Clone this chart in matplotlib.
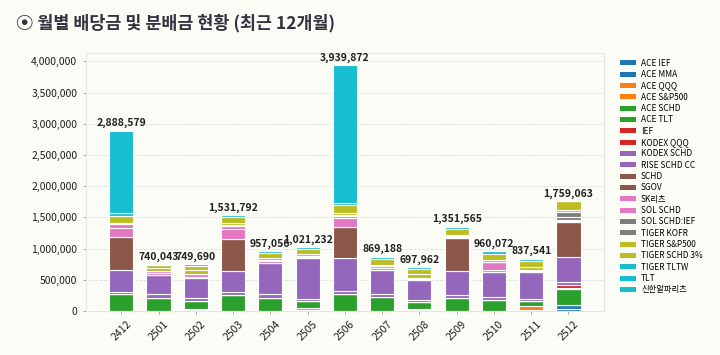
import numpy as np
import matplotlib
matplotlib.use('Agg')
import matplotlib.pyplot as plt
from matplotlib.ticker import FuncFormatter

plt.rcParams['font.family'] = ['Noto Sans CJK KR', 'DejaVu Sans']

# months (YYMM)
months = ['2412', '2501', '2502', '2503', '2504', '2505', '2506',
          '2507', '2508', '2509', '2510', '2511', '2512']

tickers = ['ACE IEF', 'ACE MMA', 'ACE QQQ', 'ACE S&P500', 'ACE SCHD', 'ACE TLT',
           'IEF', 'KODEX QQQ', 'KODEX SCHD', 'RISE SCHD CC', 'SCHD', 'SGOV',
           'SK리츠', 'SOL SCHD', 'SOL SCHD:IEF', 'TIGER KOFR', 'TIGER S&P500',
           'TIGER SCHD 3%', 'TIGER TLTW', 'TLT', '신한알파리츠']

# monthly amounts per ticker (won)
ace_ief       = [0, 0, 0, 0, 0, 0, 0, 0, 0, 0, 0, 10000, 35000]
ace_mma       = [0, 0, 0, 0, 0, 0, 0, 0, 0, 0, 0, 10000, 60000]
ace_qqq       = [0, 0, 10000, 0, 0, 15000, 0, 0, 10000, 0, 0, 0, 0]
ace_sp500     = [0, 0, 20000, 0, 0, 25000, 0, 0, 20000, 0, 0, 55000, 0]
ace_schd      = [273000, 214000, 130000, 257000, 214000, 115000, 273000,
                 230000, 110000, 214000, 177000, 85000, 255000]
ace_tlt       = [0, 0, 0, 0, 0, 0, 0, 0, 0, 0, 0, 0, 0]
ief           = [0, 0, 0, 0, 0, 0, 0, 0, 0, 0, 0, 0, 25000]
kodex_qqq     = [0, 0, 0, 0, 0, 0, 0, 0, 0, 0, 0, 0, 45000]
kodex_schd    = [37000, 55000, 45000, 40000, 55000, 45000, 53000,
                 40000, 40000, 43000, 43000, 40000, 45000]
rise_schd_cc  = [348000, 310000, 321000, 340000, 500000, 643000, 520000,
                 390000, 321000, 390000, 412000, 427000, 395000]
schd          = [520000, 0, 0, 520000, 0, 0, 500000, 0, 0, 520000, 0, 0, 565000]
sgov          = [0, 0, 0, 0, 0, 0, 0, 0, 0, 0, 0, 0, 0]
sk_reits      = [160000, 35000, 25000, 160000, 25000, 20000, 145000,
                 25000, 15000, 10000, 20000, 15000, 20000]
sol_schd      = [50000, 30000, 45000, 45000, 25000, 23000, 30000,
                 30000, 20000, 10000, 140000, 10000, 20000]
sol_schd_ief  = [0, 0, 0, 0, 0, 0, 0, 0, 0, 0, 0, 0, 35000]
tiger_kofr    = [30000, 0, 0, 20000, 0, 0, 25000, 0, 0, 10000, 0, 0, 85000]
tiger_sp500   = [107000, 40000, 64690, 35000, 30000, 25000, 30000,
                 30000, 50000, 15000, 20000, 55000, 40000]
tiger_schd3   = [0, 56043, 64000, 90000, 85000, 80000, 117000,
                 90000, 80000, 110000, 100000, 95000, 134063]
tiger_tltw    = [40000, 0, 25000, 24792, 23056, 30232, 30000,
                 34188, 31962, 29565, 48072, 35541, 0]
tlt           = [0, 0, 0, 0, 0, 0, 0, 0, 0, 0, 0, 0, 0]
shinhan_alpha = [1323579, 0, 0, 0, 0, 0, 2216872, 0, 0, 0, 0, 0, 0]

series = [ace_ief, ace_mma, ace_qqq, ace_sp500, ace_schd, ace_tlt, ief,
          kodex_qqq, kodex_schd, rise_schd_cc, schd, sgov, sk_reits, sol_schd,
          sol_schd_ief, tiger_kofr, tiger_sp500, tiger_schd3, tiger_tltw, tlt,
          shinhan_alpha]

bg = '#fcfcf7'
colors = plt.cm.tab10(np.linspace(0, 1, len(tickers)))


def main():
    fig = plt.figure(figsize=(7.2, 3.55), dpi=100, facecolor=bg)
    ax = fig.add_axes([0.119, 0.124, 0.72, 0.727])
    ax.set_facecolor(bg)

    x = np.arange(len(months))
    bottom = np.zeros(len(months))
    for name, vals, c in zip(tickers, series, colors):
        vals = np.array(vals, dtype=float)
        ax.bar(x, vals, 0.65, bottom=bottom, color=c, edgecolor='white',
               linewidth=0.8, label=name)
        bottom += vals

    # totals above bars
    for xi, tot in zip(x, bottom):
        ax.text(xi, tot + 40000, f'{int(round(tot)):,}', ha='center', va='bottom',
                fontsize=7.5, fontweight='bold', color='#222222')

    ax.set_ylim(0, bottom.max() * 1.05)
    ax.set_yticks(np.arange(0, 4000001, 500000))
    ax.yaxis.set_major_formatter(FuncFormatter(lambda v, p: f'{int(v):,}'))
    ax.set_xticks(x)
    ax.set_xticklabels(months, rotation=45, ha='center')
    ax.tick_params(axis='both', labelsize=7.5, labelcolor='#1e1e1e', length=2.5,
                   width=0.6, color='#999999')
    for lab in ax.get_xticklabels() + ax.get_yticklabels():
        lab.set_fontweight('medium')

    ax.grid(axis='y', linestyle='--', linewidth=0.6, color='#dddddd')
    ax.set_axisbelow(True)
    for s in ax.spines.values():
        s.set_color('#e4e4e4')
        s.set_linewidth(0.8)

    leg = ax.legend(loc='upper left', bbox_to_anchor=(1.02, 1.0), frameon=False,
                    fontsize=6, handlelength=1.9, handleheight=0.55,
                    labelspacing=0.28, handletextpad=0.6, borderaxespad=0.3)
    for t in leg.get_texts():
        t.set_fontweight('medium')
    for h in leg.legend_handles:
        h.set_edgecolor('none')

    fig.text(0.022, 0.935, '⦿ 월별 배당금 및 분배금 현황 (최근 12개월)',
             fontsize=12.5, fontweight='bold', color='#31333f', va='center')

    fig.savefig('out.png', dpi=100, facecolor=bg)


if __name__ == '__main__':
    main()
